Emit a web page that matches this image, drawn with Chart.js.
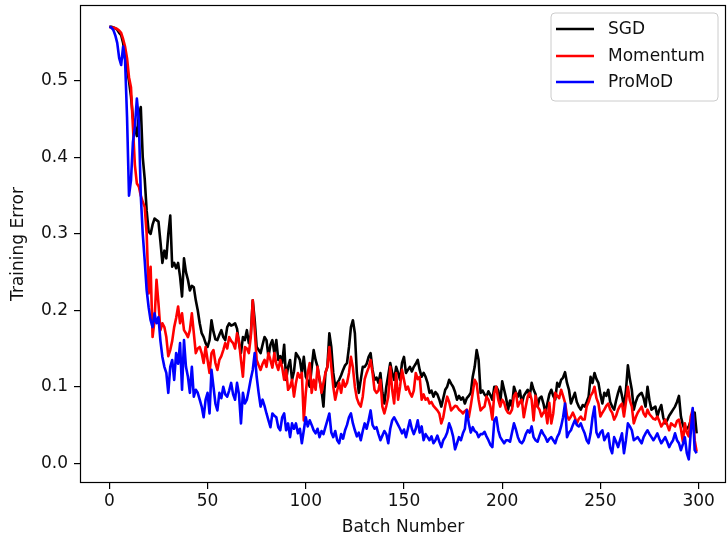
<!DOCTYPE html>
<html><head><meta charset="utf-8">
<style>html,body{margin:0;padding:0;background:#fff;}canvas{display:block;}</style>
<script src="https://cdn.jsdelivr.net/npm/chart.js@4.4.1/dist/chart.umd.min.js"></script>
</head><body>
<canvas id="c" width="728" height="540"></canvas>
<script>
const batches = [
0,1,2,3,4,5,6,7,8,9,10,11,12,13,14,15,16,17,18,19,20,21,22,23,24,25,26,27,28,29,
30,31,32,33,34,35,36,37,38,39,40,41,42,43,44,45,46,47,48,49,50,51,52,53,54,55,56,57,58,59,
60,61,62,63,64,65,66,67,68,69,70,71,72,73,74,75,76,77,78,79,80,81,82,83,84,85,86,87,88,89,
90,91,92,93,94,95,96,97,98,99,100,101,102,103,104,105,106,107,108,109,110,111,112,113,114,115,116,117,118,119,
120,121,122,123,124,125,126,127,128,129,130,131,132,133,134,135,136,137,138,139,140,141,142,143,144,145,146,147,148,149,
150,151,152,153,154,155,156,157,158,159,160,161,162,163,164,165,166,167,168,169,170,171,172,173,174,175,176,177,178,179,
180,181,182,183,184,185,186,187,188,189,190,191,192,193,194,195,196,197,198,199,200,201,202,203,204,205,206,207,208,209,
210,211,212,213,214,215,216,217,218,219,220,221,222,223,224,225,226,227,228,229,230,231,232,233,234,235,236,237,238,239,
240,241,242,243,244,245,246,247,248,249,250,251,252,253,254,255,256,257,258,259,260,261,262,263,264,265,266,267,268,269,
270,271,272,273,274,275,276,277,278,279,280,281,282,283,284,285,286,287,288,289,290,291,292,293,294,295,296,297,298,299];

const xTicks = [0, 50, 100, 150, 200, 250, 300];
const yTicks = [0.0, 0.1, 0.2, 0.3, 0.4, 0.5];
const seriesNames = ['SGD', 'Momentum', 'ProMoD'];

const sgd = [
.571,.571,.570,.569,.567,.563,.560,.550,.530,.515,
.500,.480,.452,.440,.428,.455,.466,.400,.372,.330,
.303,.300,.312,.320,.318,.316,.290,.262,.278,.268,
.300,.324,.257,.262,.255,.262,.244,.218,.268,.250,
.240,.226,.232,.230,.213,.200,.183,.170,.165,.157,
.152,.161,.187,.172,.162,.161,.168,.174,.165,.161,
.178,.183,.180,.181,.183,.176,.157,.144,.165,.161,
.174,.157,.168,.213,.187,.152,.148,.144,.155,.165,
.161,.139,.155,.161,.144,.161,.135,.140,.131,.155,
.109,.126,.135,.109,.120,.144,.140,.135,.118,.139,
.113,.108,.100,.125,.148,.135,.126,.109,.096,.074,
.118,.126,.170,.152,.118,.100,.105,.109,.115,.122,
.128,.131,.152,.178,.187,.170,.118,.092,.109,.126,
.126,.130,.139,.144,.122,.109,.112,.105,.118,.092,
.078,.100,.115,.131,.118,.109,.126,.118,.109,.131,
.139,.118,.122,.126,.120,.126,.130,.135,.122,.113,
.118,.113,.105,.092,.095,.087,.093,.090,.083,.074,
.085,.096,.100,.109,.104,.100,.093,.083,.088,.083,
.086,.078,.085,.088,.092,.113,.126,.148,.135,.092,
.095,.090,.087,.094,.089,.083,.100,.100,.095,.078,
.107,.096,.085,.070,.082,.074,.100,.092,.087,.095,
.078,.088,.092,.096,.087,.105,.096,.090,.074,.085,
.087,.078,.066,.078,.090,.096,.088,.083,.105,.100,
.109,.112,.119,.105,.096,.078,.085,.092,.080,.074,
.070,.076,.074,.080,.087,.113,.105,.118,.110,.105,
.090,.078,.092,.088,.096,.080,.074,.070,.082,.092,
.100,.088,.074,.095,.128,.110,.096,.070,.080,.087,
.090,.092,.085,.074,.100,.082,.070,.072,.074,.061,
.070,.076,.060,.052,.056,.062,.066,.070,.074,.080,
.088,.061,.050,.043,.045,.048,.056,.062,.066,.039];

const momentum = [
.571,.570,.570,.569,.568,.566,.563,.555,.545,.530,
.505,.492,.440,.390,.366,.362,.350,.342,.335,.300,
.222,.257,.165,.187,.240,.209,.174,.183,.178,.165,
.140,.148,.160,.178,.190,.205,.183,.196,.174,.170,
.165,.174,.196,.170,.144,.150,.152,.144,.131,.152,
.135,.118,.144,.148,.131,.122,.135,.140,.148,.157,
.150,.165,.160,.157,.150,.170,.160,.135,.113,.152,
.150,.144,.165,.213,.174,.135,.128,.122,.130,.135,
.126,.144,.135,.125,.144,.130,.122,.135,.125,.109,
.122,.096,.100,.109,.087,.105,.118,.112,.118,.056,
.092,.118,.131,.092,.109,.096,.126,.110,.092,.105,
.118,.126,.152,.126,.100,.083,.095,.105,.092,.109,
.100,.105,.118,.139,.125,.100,.085,.078,.074,.087,
.110,.118,.125,.135,.118,.096,.092,.095,.109,.074,
.065,.075,.087,.126,.096,.078,.118,.083,.100,.122,
.109,.096,.100,.092,.087,.095,.118,.110,.113,.083,
.090,.083,.085,.078,.080,.075,.072,.069,.065,.052,
.060,.075,.087,.080,.069,.072,.075,.074,.070,.068,
.065,.068,.070,.060,.075,.092,.109,.104,.083,.069,
.072,.074,.087,.083,.074,.057,.092,.100,.083,.074,
.083,.079,.070,.066,.065,.070,.088,.092,.074,.080,
.083,.060,.074,.087,.092,.083,.056,.088,.074,.070,
.061,.066,.070,.052,.079,.052,.065,.092,.088,.085,
.096,.088,.079,.062,.057,.061,.066,.060,.052,.058,
.061,.057,.057,.074,.080,.088,.092,.100,.085,.078,
.061,.066,.070,.075,.078,.070,.066,.057,.062,.070,
.075,.078,.061,.080,.100,.082,.074,.052,.060,.066,
.070,.074,.065,.061,.070,.064,.061,.058,.057,.061,
.055,.048,.052,.057,.050,.043,.052,.050,.048,.055,
.057,.045,.028,.052,.040,.035,.061,.070,.030,.015];

const promod = [
.571,.570,.567,.560,.550,.530,.521,.545,.527,.453,
.350,.370,.420,.440,.477,.449,.350,.300,.265,.226,
.204,.187,.178,.196,.183,.191,.160,.139,.126,.118,
.092,.126,.135,.109,.144,.130,.157,.096,.161,.126,
.113,.092,.126,.087,.096,.092,.083,.074,.060,.083,
.092,.065,.122,.100,.078,.069,.092,.085,.100,.090,
.087,.095,.105,.090,.083,.105,.090,.052,.092,.078,
.083,.096,.110,.122,.144,.113,.092,.074,.083,.075,
.065,.056,.047,.065,.062,.060,.047,.043,.060,.065,
.043,.052,.034,.052,.045,.052,.039,.045,.026,.043,
.060,.048,.056,.050,.043,.039,.045,.034,.042,.038,
.047,.056,.065,.040,.034,.042,.030,.026,.038,.032,
.043,.050,.060,.065,.052,.043,.035,.040,.030,.042,
.052,.045,.056,.069,.050,.045,.047,.038,.030,.036,
.042,.038,.026,.045,.056,.060,.055,.050,.045,.039,
.044,.034,.045,.056,.045,.038,.045,.056,.040,.048,
.030,.038,.034,.030,.035,.026,.030,.036,.028,.021,
.030,.034,.040,.052,.045,.035,.018,.026,.034,.030,
.039,.045,.069,.052,.040,.047,.042,.040,.034,.038,
.038,.041,.035,.030,.024,.021,.056,.060,.043,.034,
.030,.026,.030,.030,.028,.040,.052,.044,.034,.028,
.026,.030,.038,.043,.040,.048,.034,.030,.028,.036,
.043,.038,.034,.028,.032,.034,.030,.026,.034,.039,
.048,.060,.078,.034,.040,.043,.050,.056,.050,.048,
.052,.045,.039,.030,.026,.039,.060,.074,.040,.034,
.040,.043,.030,.035,.039,.020,.013,.034,.028,.021,
.030,.039,.013,.030,.052,.048,.043,.030,.032,.034,
.030,.026,.034,.039,.043,.038,.034,.030,.034,.039,
.032,.026,.030,.034,.028,.021,.026,.030,.039,.030,
.026,.017,.025,.034,.013,.005,.040,.072,.017,.013];

const seriesValues = [sgd, momentum, promod];
const seriesColors = ['#000000', '#ff0000', '#0000ff'];
const FONT = 'DejaVu Sans';

const datasets = seriesNames.map((name, k) => ({
  label: name,
  data: seriesValues[k].map((v, i) => ({x: batches[i], y: v})),
  borderColor: seriesColors[k],
  backgroundColor: seriesColors[k],
  borderWidth: 2.6,
  pointRadius: 0,
  tension: 0,
  borderJoinStyle: 'round',
  fill: false,
  order: seriesNames.length - k
}));

const framePlugin = {
  id: 'frame',
  afterDatasetsDraw(chart) {
    const {ctx, chartArea: a} = chart;
    ctx.save();
    ctx.strokeStyle = '#000';
    ctx.lineWidth = 1.2;
    ctx.strokeRect(a.left + 0.5, a.top + 0.5, a.right - a.left - 1, a.bottom - a.top - 1);
    // legend
    const bx = 551, by = 13, bw = 167, bh = 88, r = 4;
    ctx.beginPath();
    ctx.moveTo(bx + r, by);
    ctx.arcTo(bx + bw, by, bx + bw, by + bh, r);
    ctx.arcTo(bx + bw, by + bh, bx, by + bh, r);
    ctx.arcTo(bx, by + bh, bx, by, r);
    ctx.arcTo(bx, by, bx + bw, by, r);
    ctx.closePath();
    ctx.fillStyle = 'rgba(255,255,255,0.8)';
    ctx.fill();
    ctx.strokeStyle = '#cccccc';
    ctx.lineWidth = 1;
    ctx.stroke();
    const ys = [29, 56, 82];
    ctx.font = '17px "' + FONT + '"';
    ctx.textBaseline = 'middle';
    ctx.textAlign = 'left';
    seriesNames.forEach((n, k) => {
      ctx.beginPath();
      ctx.moveTo(556, ys[k]);
      ctx.lineTo(594, ys[k]);
      ctx.strokeStyle = seriesColors[k];
      ctx.lineWidth = 2.6;
      ctx.stroke();
      ctx.fillStyle = '#111';
      ctx.fillText(n, 608, ys[k] + 1);
    });
    ctx.restore();
  }
};

new Chart(document.getElementById('c'), {
  type: 'line',
  data: {datasets},
  plugins: [framePlugin],
  options: {
    responsive: false,
    animation: false,
    devicePixelRatio: 1,
    layout: {padding: {left: 0, top: 5, right: 2, bottom: 0}},
    plugins: {legend: {display: false}, tooltip: {enabled: false}},
    scales: {
      x: {
        type: 'linear',
        min: -14.95,
        max: 313.95,
        afterBuildTicks: s => { s.ticks = xTicks.map(v => ({value: v})); },
        afterFit: s => { s.height = 57; s.paddingLeft = 0; s.paddingRight = 0; },
        grid: {drawOnChartArea: false, drawTicks: true, tickLength: 6, color: '#000', lineWidth: 1.2},
        border: {display: false},
        ticks: {color: '#111', font: {family: FONT, size: 17}, padding: 2, maxRotation: 0, autoSkip: false,
                callback: v => String(v)},
        title: {display: true, text: 'Batch Number', color: '#111', font: {family: FONT, size: 17},
                padding: {top: 0, bottom: 2}}
      },
      y: {
        type: 'linear',
        min: -0.026,
        max: 0.5995,
        afterBuildTicks: s => { s.ticks = yTicks.map(v => ({value: v})); },
        afterFit: s => { s.width = 80; s.paddingTop = 0; s.paddingBottom = 0; },
        grid: {drawOnChartArea: false, drawTicks: true, tickLength: 6, color: '#000', lineWidth: 1.2},
        border: {display: false},
        ticks: {color: '#111', font: {family: FONT, size: 17}, padding: 6, autoSkip: false,
                callback: v => v.toFixed(1)},
        title: {display: true, text: 'Training Error', color: '#111', font: {family: FONT, size: 17},
                padding: {top: 8, bottom: 0}}
      }
    }
  }
});
</script>
</body></html>
